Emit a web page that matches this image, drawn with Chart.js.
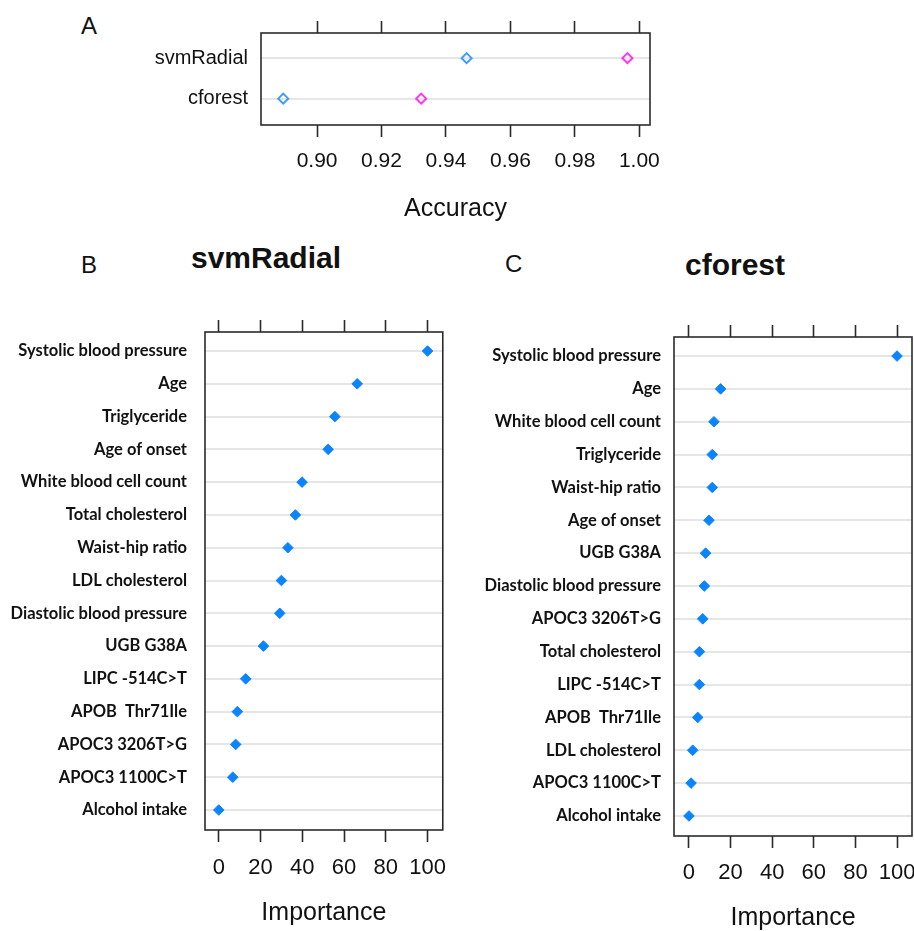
<!DOCTYPE html>
<html>
<head>
<meta charset="utf-8">
<script src="https://cdn.jsdelivr.net/npm/chart.js@4.4.1/dist/chart.umd.min.js"></script>
<style>
  html, body { margin: 0; padding: 0; background: #fff; overflow: hidden; width: 914px; height: 931px; }
  canvas { position: absolute; }
  .lbl { position: absolute; font-family: 'Liberation Sans', Arial, sans-serif; line-height: 1; color: #111; white-space: nowrap; }
</style>
</head>
<body>
<div class="lbl" style="left:81px; top:14px; font-size:24px">A</div>
<div class="lbl" style="left:81px; top:253px; font-size:24px">B</div>
<div class="lbl" style="left:505px; top:252px; font-size:24px">C</div>
<div class="lbl" style="left:266px; top:243px; font-size:30px; font-weight:bold; transform:translateX(-50%)">svmRadial</div>
<div class="lbl" style="left:735px; top:250px; font-size:30px; font-weight:bold; transform:translateX(-50%)">cforest</div>

<canvas id="accChart" width="700" height="235" style="left:0; top:0"></canvas>
<canvas id="svmChart" width="460" height="631" style="left:0; top:300px"></canvas>
<canvas id="cfChart" width="490" height="631" style="left:450px; top:300px"></canvas>

<script>
// panel A - resampled accuracy
const accModels = ['svmRadial', 'cforest'];
const accBlue = [0.9464, 0.8895];
const accMagenta = [0.9963, 0.9323];

// panel B - svmRadial variable importance
const svmFeatures = ['Systolic blood pressure', 'Age', 'Triglyceride', 'Age of onset',
  'White blood cell count', 'Total cholesterol', 'Waist-hip ratio', 'LDL cholesterol',
  'Diastolic blood pressure', 'UGB G38A', 'LIPC -514C>T', 'APOB  Thr71Ile',
  'APOC3 3206T>G', 'APOC3 1100C>T', 'Alcohol intake'];
const svmImportance = [100, 66.3, 55.6, 52.4, 39.9, 36.7, 33.1, 30.0, 29.2, 21.4, 12.9, 8.9, 8.1, 6.7, 0];

// panel C - cforest variable importance
const cfFeatures = ['Systolic blood pressure', 'Age', 'White blood cell count', 'Triglyceride',
  'Waist-hip ratio', 'Age of onset', 'UGB G38A', 'Diastolic blood pressure',
  'APOC3 3206T>G', 'Total cholesterol', 'LIPC -514C>T', 'APOB  Thr71Ile',
  'LDL cholesterol', 'APOC3 1100C>T', 'Alcohol intake'];
const cfImportance = [100, 15.2, 12.0, 11.2, 11.2, 9.6, 8.0, 7.4, 6.6, 5.0, 5.0, 4.2, 1.8, 1.0, 0];

const INK = '#2b2b2b';
const ARIAL = "'Liberation Sans', Arial, sans-serif";
const LABEL = "Lato, 'Noto Sans', sans-serif";

// lattice style box round the panel
const framePlugin = {
  id: 'frame',
  beforeDatasetsDraw(chart) {
    const {ctx, chartArea: a} = chart;
    ctx.save();
    ctx.strokeStyle = INK;
    ctx.lineWidth = 1.6;
    ctx.strokeRect(a.left, a.top, a.right - a.left, a.bottom - a.top);
    ctx.restore();
  }
};

function dotChart(id, cats, series, o) {
  const tickMarks = {
    drawOnChartArea: false, drawTicks: true, tickLength: 12,
    tickColor: INK, tickWidth: 1.6, color: INK
  };
  return new Chart(document.getElementById(id), {
    type: 'scatter',
    data: {
      datasets: series.map(s => ({
        data: s.values.map((v, i) => ({x: v, y: i})),
        pointStyle: 'rectRot',
        pointRadius: s.radius,
        pointHoverRadius: s.radius,
        pointBorderWidth: s.borderWidth,
        pointBorderColor: s.color,
        pointBackgroundColor: s.fill,
        showLine: false,
        clip: false
      }))
    },
    options: {
      responsive: false,
      animation: false,
      events: [],
      layout: { padding: { left: 0, top: 0, bottom: 0, right: o.right } },
      plugins: { legend: { display: false }, tooltip: { enabled: false } },
      scales: {
        x: {
          type: 'linear', position: 'bottom', min: o.xMin, max: o.xMax,
          afterFit: s => { s.height = o.bottom; },
          border: { display: false },
          grid: tickMarks,
          ticks: {
            stepSize: o.step, includeBounds: false, padding: o.tickPad,
            color: '#111', font: { family: ARIAL, size: o.tickSize },
            callback: v => o.fmt(v)
          },
          title: {
            display: true, text: o.title, color: '#111',
            font: { family: ARIAL, size: o.titleSize, lineHeight: 1 },
            padding: { top: 0, bottom: o.titlePad }
          }
        },
        xTop: {
          type: 'linear', position: 'top', min: o.xMin, max: o.xMax,
          afterFit: s => { s.height = o.top; },
          border: { display: false },
          grid: tickMarks,
          ticks: { stepSize: o.step, includeBounds: false, display: false }
        },
        y: {
          type: 'linear', position: 'left', reverse: true, min: o.yMin, max: o.yMax,
          afterFit: s => { s.width = o.left; },
          border: { display: false },
          grid: { color: '#e6e6e6', lineWidth: 2, drawTicks: false },
          ticks: {
            stepSize: 1, includeBounds: false, autoSkip: false, padding: o.labelPad,
            color: '#111', font: o.labelFont,
            callback: v => cats[v]
          }
        }
      }
    },
    plugins: [framePlugin]
  });
}

dotChart('accChart', accModels, [
  { values: accBlue, color: '#3d9bff', fill: 'rgba(255,255,255,0)', radius: 5, borderWidth: 2 },
  { values: accMagenta, color: '#ff33f0', fill: 'rgba(255,255,255,0)', radius: 5, borderWidth: 2 }
], {
  xMin: 0.8826, xMax: 1.0033, step: 0.02, fmt: v => v.toFixed(2),
  yMin: -0.62, yMax: 1.65,
  left: 261, top: 33, bottom: 110, right: 50,
  tickPad: 12, tickSize: 21, title: 'Accuracy', titleSize: 25, titlePad: 13,
  labelPad: 13, labelFont: { family: ARIAL, size: 20 }
});

dotChart('svmChart', svmFeatures, [
  { values: svmImportance, color: '#0a84ff', fill: '#0a84ff', radius: 5.3, borderWidth: 1 }
], {
  xMin: -6.6, xMax: 107.3, step: 20, fmt: v => String(v),
  yMin: -0.58, yMax: 14.61,
  left: 205, top: 32, bottom: 101, right: 17,
  tickPad: 13, tickSize: 22, title: 'Importance', titleSize: 25, titlePad: 5,
  labelPad: 18, labelFont: { family: LABEL, size: 16.5, weight: 'bold' }
});

dotChart('cfChart', cfFeatures, [
  { values: cfImportance, color: '#0a84ff', fill: '#0a84ff', radius: 5.3, borderWidth: 1 }
], {
  xMin: -7.2, xMax: 107.2, step: 20, fmt: v => String(v),
  yMin: -0.58, yMax: 14.61,
  left: 224, top: 37, bottom: 95, right: 28,
  tickPad: 12, tickSize: 22, title: 'Importance', titleSize: 25, titlePad: 0,
  labelPad: 13, labelFont: { family: LABEL, size: 16.5, weight: 'bold' }
});
</script>
</body>
</html>
